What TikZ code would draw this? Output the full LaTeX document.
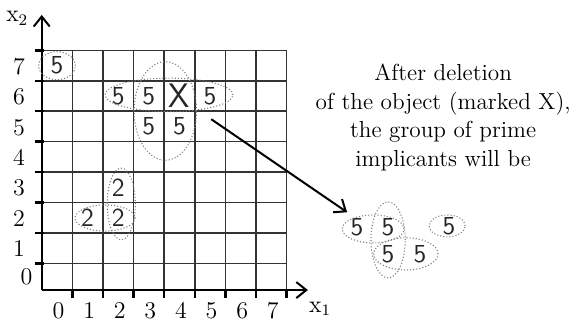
\documentclass[tikz,border=0pt]{standalone}
\usetikzlibrary{arrows.meta}
\tikzset{
  gridline/.style={line width=.8pt,black!80},
  tick/.style={line width=1.2pt,black},
  axis/.style={line width=.9pt,black,-{Straight Barb[length=5pt,width=8pt,line width=1pt]}},
  grp/.style={draw=black!50,densely dotted,line width=.55pt},
  cell/.style={font=\sffamily\fontsize{13}{13}\selectfont,inner sep=0pt,text=black!85},
}
\begin{document}
\begin{tikzpicture}[x=15.3pt,y=15.2pt,font=\fontsize{12}{14}\selectfont]
\useasboundingbox (-1.363,-0.931) rectangle (17.297,9.661);
% grid and ticks
\foreach \j in {1,...,8}{
\draw[gridline] (0,\j)--(8,\j);
\draw[tick] (-.22,\j)--(.06,\j);
}
\foreach \i in {1,...,8}{
\draw[gridline] (\i,.12)--(\i,8);
\draw[tick] (\i,.12)--(\i,-.14);
}
% axes
\coordinate (orig) at (0,.12);
\coordinate (xend) at (8.7,.12);
\coordinate (yend) at (0,9.17);
\draw[axis] (orig)--(xend);
\draw[axis] (orig)--(yend);
\node[inner sep=1pt] (xlab) at (9.1,-.5) {x\textsubscript{1}};
\node (ylab) at (-.8,9.05) {x\textsubscript{2}};
\foreach \j in {1,...,7}{\node (row\j) at (-.74,\j+.47) {\j};}
\node (row0) at (-.5,.55) {0};
\foreach \i in {0,...,7}{\node[inner sep=1pt] (col\i) at (\i+.55,-.56) {\i};}
% map entries
\foreach \i/\j/\v in {0/7/5,2/6/5,3/6/5,5/6/5,3/5/5,4/5/5,1/2/2,2/2/2,2/3/2}{
\node[cell] (m\i\j) at (\i+.5,\j+.5) {\v};
}
\node[cell,font=\sffamily\fontsize{17}{17}\selectfont] (del) at (4.5,6.5) {X};
% groups on the map
\draw[grp] (.5,7.5) ellipse [x radius=.6,y radius=.46];
\draw[grp] (4.16,6.54) ellipse [x radius=2.09,y radius=.55];
\draw[grp] (4.04,6.01) ellipse [x radius=1.02,y radius=1.62];
\draw[grp] (2.07,2.49) ellipse [x radius=.98,y radius=.43];
\draw[grp] (2.6,2.95) ellipse [x radius=.46,y radius=1.18];
% note and arrow
\node[align=center,font=\fontsize{11.6}{14.25}\selectfont] (note) at (13.12,5.8)
{After deletion\\of the object (marked X),\\the group of prime\\implicants will be};
\coordinate (from) at (5.54,5.74);
\coordinate (to) at (9.98,2.68);
\draw[line width=1pt,-{Straight Barb[length=5pt,width=8pt,line width=1pt]}] (from)--(to);
% groups after deletion
\foreach \n/\x/\y in {a/10.3/2.19,b/11.32/2.19,c/13.31/2.22,d/11.32/1.31,e/12.36/1.31}{
\node[cell] (g\n) at (\x,\y) {5};
}
\draw[grp] (10.83,2.13) ellipse [x radius=1.01,y radius=.46];
\draw[grp] (11.32,1.77) ellipse [x radius=.56,y radius=1.25];
\draw[grp] (11.9,1.31) ellipse [x radius=1.05,y radius=.53];
\draw[grp] (13.25,2.23) ellipse [x radius=.59,y radius=.36];
\end{tikzpicture}
\end{document}
